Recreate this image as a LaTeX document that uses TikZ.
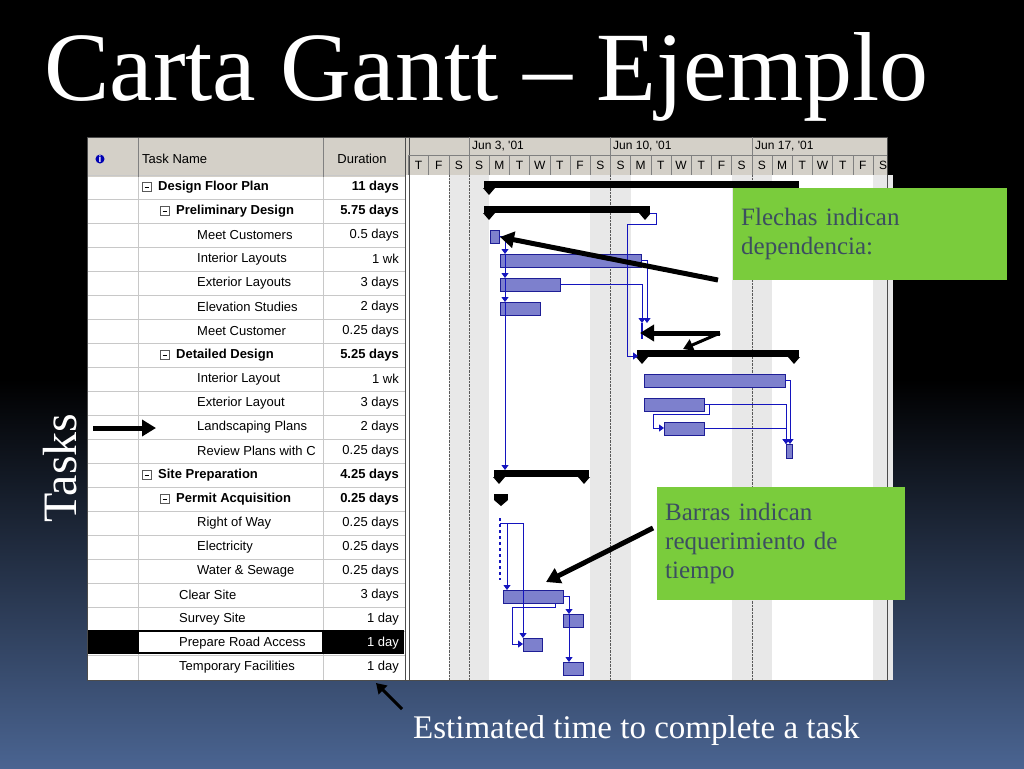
\documentclass[tikz,border=0pt]{standalone}
\usepackage{fontspec}
\setmainfont{Liberation Serif}
\newfontfamily\ms{Liberation Sans}
\usetikzlibrary{arrows.meta}
\definecolor{bgblue}{RGB}{74,100,145}
\definecolor{grn}{RGB}{122,204,60}
\definecolor{gtxt}{RGB}{60,78,96}
\definecolor{hdr}{RGB}{212,208,200}
\definecolor{barf}{RGB}{125,128,205}
\definecolor{bard}{RGB}{30,30,150}
\definecolor{lnk}{RGB}{20,20,190}
\definecolor{grid}{RGB}{200,200,200}
\tikzset{
 cell/.style={font=\ms\fontsize{13}{13}\selectfont, inner sep=0pt},
 bcell/.style={cell, font=\ms\bfseries\fontsize{13}{13}\selectfont},
 bar/.style={fill=barf, draw=bard, line width=0.8pt},
 link/.style={draw=lnk, line width=0.8pt},
 lnkarr/.style={link, -{Triangle[length=5pt,width=7pt]}},
 bigarr/.style={line width=5pt, -{Triangle[length=14pt,width=16pt]}},
 gbox/.style={fill=grn, text=gtxt, align=left, anchor=north west, inner sep=8pt, font=\fontsize{25}{29}\selectfont}
}
\newcommand\summbar[3]{%
 \fill (#1,#3-4) rectangle (#2,#3+3);
 \fill (#1-1,#3+3) -- (#1+11,#3+3) -- (#1+5,#3+10) -- cycle;
 \fill (#2-11,#3+3) -- (#2+1,#3+3) -- (#2-5,#3+10) -- cycle;}
\begin{document}
\begin{tikzpicture}[x=1pt,y=-1pt]
\useasboundingbox (0,0) rectangle (1024,768);
\fill[black] (0,0) rectangle (1024,380);
\shade[top color=black, bottom color=bgblue] (0,379) rectangle (1024,768);
% title
\node[anchor=base west, text=white, font=\fontsize{98}{98}\selectfont, inner sep=0pt] (title) at (44,100) {Carta Gantt – Ejemplo};
% table frame
\fill[white] (87,137) rectangle (887,680);
\fill[hdr] (87,137) rectangle (405,177);
\fill[hdr] (405,137) rectangle (887,175);
% weekend shading
\foreach \d in {-1,0,6,7,13,14,20}{
 \fill[gray!18] ({469+20.2*\d},175) rectangle ({469+20.2*(\d+1)},680);}
\foreach \x in {449,469,610,752}{\draw[densely dotted, gray!70!black] (\x,175) -- (\x,680);}
% table grid
\foreach \i in {0,...,20}{\draw[grid] (87,{175+24*\i}) -- (405,{175+24*\i});}
\draw[grid] (138,177) -- (138,680); \draw[grid] (323,177) -- (323,680);
\draw[gray] (138,137) -- (138,177); \draw[gray] (323,137) -- (323,177);
\draw[gray!60!black, line width=1pt] (87,137) rectangle (887,680);
\draw[gray!60!black, line width=1pt] (405,137) -- (405,680);
\draw[gray!60!black] (409,137) -- (409,680);
% header text
\node[circle, fill=blue!70!black, text=white, inner sep=0.5pt, font=\ms\bfseries\fontsize{10}{10}\selectfont] (info) at (100,159) {i};
\node[cell, anchor=west] (hname) at (142,159) {Task Name};
\node[cell] (hdur) at (362,159) {Duration};
% gantt header
\draw[gray] (409,155) -- (887,155);
\foreach \x/\t in {469/{Jun 3, '01},610/{Jun 10, '01},752/{Jun 17, '01}}{
 \draw[gray] (\x,137) -- (\x,155);
 \node[cell, anchor=west, font=\ms\fontsize{12}{12}\selectfont] at (\x+3,146) {\t};}
\foreach \l [count=\k from -3] in {T,F,S,S,M,T,W,T,F,S,S,M,T,W,T,F,S,S,M,T,W,T,F,S}{
 \draw[gray] ({469+20.2*\k},155) -- ({469+20.2*\k},175);
 \node[cell, font=\ms\fontsize{12}{12}\selectfont] at ({469+20.2*\k+10.1},165) {\l};}
% selected row
\fill[black] (88,630) rectangle (138,654);
\fill[black] (323,630) rectangle (404,654);
\draw[black, line width=1.2pt] (138,631) rectangle (323,653);
% rows
\foreach \i/\ind/\name/\dur/\b in {
0/143/Design Floor Plan/11 days/1,
1/161/Preliminary Design/5.75 days/1,
2/197/Meet Customers/0.5 days/0,
3/197/Interior Layouts/1 wk/0,
4/197/Exterior Layouts/3 days/0,
5/197/Elevation Studies/2 days/0,
6/197/Meet Customer/0.25 days/0,
7/161/Detailed Design/5.25 days/1,
8/197/Interior Layout/1 wk/0,
9/197/Exterior Layout/3 days/0,
10/197/Landscaping Plans/2 days/0,
11/197/Review Plans with C/0.25 days/0,
12/143/Site Preparation/4.25 days/1,
13/161/Permit Acquisition/0.25 days/1,
14/197/Right of Way/0.25 days/0,
15/197/Electricity/0.25 days/0,
16/197/Water \& Sewage/0.25 days/0,
17/179/Clear Site/3 days/0,
18/179/Survey Site/1 day/0,
19/179/Prepare Road Access/1 day/0,
20/179/Temporary Facilities/1 day/0}{
 \ifnum\b=1
  \draw[gray!70!black] (\ind-1,{187+24*\i-4.5}) rectangle (\ind+8,{187+24*\i+4.5});
  \draw (\ind+1.5,{187+24*\i}) -- (\ind+5.5,{187+24*\i});
  \node[bcell, anchor=west] (n\i) at (\ind+15,{187+24*\i}) {\name};
  \node[bcell, anchor=east] (d\i) at (399,{187+24*\i}) {\dur};
 \else
  \ifnum\i=19
   \node[cell, anchor=west] (n\i) at (\ind,{187+24*\i}) {\name};
   \node[cell, anchor=east, text=white] (d\i) at (399,{187+24*\i}) {\dur};
  \else
   \node[cell, anchor=west] (n\i) at (\ind,{187+24*\i}) {\name};
   \node[cell, anchor=east] (d\i) at (399,{187+24*\i}) {\dur};
  \fi
 \fi}
\fill[white] (320,440) rectangle (323,462);
% summary bars
\summbar{484}{799}{185}
\summbar{484}{650}{210}
\summbar{637}{799}{354}
\summbar{494}{589}{474}
\fill (494,494) rectangle (508,500); \fill (494,500) -- (508,500) -- (501,506) -- cycle;
% task bars
\draw[bar] (490,230) rectangle (499,243);
\draw[bar] (500,254) rectangle (641,267);
\draw[bar] (500,278) rectangle (560,291);
\draw[bar] (500,302) rectangle (540,315);
\draw[bar] (644,374) rectangle (785,387);
\draw[bar] (644,398) rectangle (704,411);
\draw[bar] (664,422) rectangle (704,435);
\draw[bar] (786,444) rectangle (792,458);
\draw[bar] (503,590) rectangle (563,603);
\draw[bar] (563,614) rectangle (583,627);
\draw[bar] (523,638) rectangle (542,651);
\draw[bar] (563,662) rectangle (583,675);
% links
\draw[lnkarr] (499,236) -- (505,236) -- (505,254);
\draw[lnkarr] (505,254) -- (505,278);
\draw[lnkarr] (505,278) -- (505,302);
\draw[lnkarr] (505,302) -- (505,470);
\draw[link] (650,213) -- (656,213) -- (656,224) -- (627,224) -- (627,356);
\draw[lnkarr] (627,356) -- (638,356);
\draw[lnkarr] (641,260) -- (647,260) -- (647,323);
\draw[lnkarr] (560,284) -- (642,284) -- (642,323);
\draw[lnk, line width=1.5pt] (642,323) -- (642,339);
\draw[lnkarr] (785,380) -- (790,380) -- (790,444);
\draw[lnkarr] (704,404) -- (786,404) -- (786,444);
\draw[lnkarr] (704,428) -- (786,428) -- (786,444);
\draw[link] (704,404) -- (709,404) -- (709,414) -- (653,414) -- (653,428);
\draw[lnkarr] (653,428) -- (664,428);
\draw[lnk, line width=1.8pt, dashed] (500,518) -- (500,580);
\draw[link] (500,523) -- (523,523);
\draw[lnkarr] (507,523) -- (507,590);
\draw[lnkarr] (523,523) -- (523,638);
\draw[lnkarr] (563,596) -- (569,596) -- (569,614);
\draw[lnkarr] (569,614) -- (569,662);
\draw[link] (555,603) -- (555,607) -- (512,607) -- (512,644);
\draw[lnkarr] (512,644) -- (523,644);
% green boxes
\node[gbox, minimum width=274pt, minimum height=92pt, text width=258pt] (g1) at (733,188) {Flechas indican\\dependencia:};
\node[gbox, minimum width=248pt, minimum height=113pt, text width=232pt] (g2) at (657,487) {Barras indican\\requerimiento de\\tiempo};
% annotation arrows
\coordinate (a1) at (718,280); \coordinate (a1e) at (500,237);
\draw[bigarr] (a1) -- (a1e);
\coordinate (a2) at (720,333); \coordinate (a2e) at (640,333);
\draw[bigarr] (a2) -- (a2e);
\coordinate (a3e) at (683,349);
\draw[line width=3pt, -{Triangle[length=10pt,width=12pt]}] (a2) -- (a3e);
\coordinate (b1) at (653,528); \coordinate (b1e) at (546,582);
\draw[bigarr] (b1) -- (b1e);
% Tasks
\node[rotate=90, text=white, font=\fontsize{48}{48}\selectfont] (tasks) at (60,468) {Tasks};
\coordinate (t1) at (93,428); \coordinate (t1e) at (156,428);
\draw[white, line width=4pt] (93,428) -- (100,428);
\draw[bigarr, black] (t1) -- (t1e);
% bottom
\node[anchor=base west, text=white, font=\fontsize{33}{33}\selectfont, inner sep=0pt] (est) at (413,738) {Estimated time to complete a task};
\coordinate (c1) at (402,709); \coordinate (c1e) at (376,683);
\draw[line width=3pt, -{Triangle[length=10pt,width=12pt]}] (c1) -- (c1e);
\end{tikzpicture}
\end{document}
